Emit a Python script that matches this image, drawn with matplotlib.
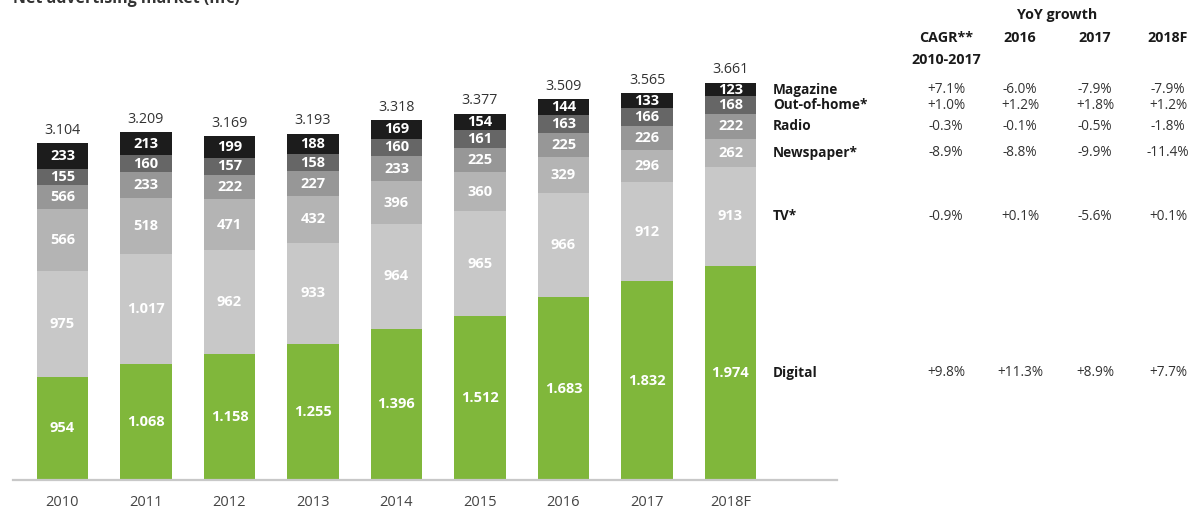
import matplotlib.pyplot as plt
import numpy as np
from matplotlib.transforms import blended_transform_factory

plt.rcParams['font.family'] = ['Open Sans', 'DejaVu Sans']

years = ['2010', '2011', '2012', '2013', '2014', '2015', '2016', '2017', '2018F']

# segments, bottom to top
digital = [954, 1068, 1158, 1255, 1396, 1512, 1683, 1832, 1974]
tv = [975, 1017, 962, 933, 964, 965, 966, 912, 913]
newspaper = [566, 518, 471, 432, 396, 360, 329, 296, 262]
radio = [221, 233, 222, 227, 233, 225, 225, 226, 222]
out_of_home = [155, 160, 157, 158, 160, 161, 163, 166, 168]
magazine = [233, 213, 199, 188, 169, 154, 144, 133, 123]
totals = ['3.104', '3.209', '3.169', '3.193', '3.318', '3.377', '3.509', '3.565', '3.661']

# the source prints 566 on the 2010 radio segment
radio_labels = ['566', '233', '222', '227', '233', '225', '225', '226', '222']

names = ['Digital', 'TV*', 'Newspaper*', 'Radio', 'Out-of-home*', 'Magazine']
cagr = ['+9.8%', '-0.9%', '-8.9%', '-0.3%', '+1.0%', '+7.1%']
yoy_2016 = ['+11.3%', '+0.1%', '-8.8%', '-0.1%', '+1.2%', '-6.0%']
yoy_2017 = ['+8.9%', '-5.6%', '-9.9%', '-0.5%', '+1.8%', '-7.9%']
yoy_2018 = ['+7.7%', '+0.1%', '-11.4%', '-1.8%', '+1.2%', '-7.9%']

colors = ['#80b73b', '#c8c8c8', '#b4b4b4', '#979797', '#666666', '#1c1c1c']


def fmt(v):
    return f'{v:,}'.replace(',', '.')


series = [digital, tv, newspaper, radio, out_of_home, magazine]
labels = [[fmt(v) for v in digital], [fmt(v) for v in tv], [fmt(v) for v in newspaper],
          radio_labels, [fmt(v) for v in out_of_home], [fmt(v) for v in magazine]]

W, H = 1191, 509
fig = plt.figure(figsize=(W / 100, H / 100), dpi=100)

# axes in pixel coords
ax_left, ax_right = 13, 837
ax_bottom, ax_top = 480, 47
ax = fig.add_axes([ax_left / W, 1 - ax_bottom / H, (ax_right - ax_left) / W, (ax_bottom - ax_top) / H])

step = 83.5
x0 = 62.5
ax.set_xlim((ax_left - x0) / step, (ax_right - x0) / step)
px_per_unit = 397 / 3661
ax.set_ylim(0, (ax_bottom - ax_top) / px_per_unit)

x = np.arange(len(years))
bottom = np.zeros(len(years))
for vals, lab, col in zip(series, labels, colors):
    vals = np.array(vals)
    ax.bar(x, vals, 0.62, bottom=bottom, color=col, linewidth=0)
    for i in range(len(years)):
        ax.text(x[i], bottom[i] + vals[i] / 2, lab[i], ha='center', va='center',
                color='white', fontsize=10.5, fontweight='bold')
    bottom += vals

for i in range(len(years)):
    ax.text(x[i], bottom[i] + 50, totals[i], ha='center', va='bottom',
            color='#333333', fontsize=10.3)

for s in ['top', 'right', 'left']:
    ax.spines[s].set_visible(False)
ax.spines['bottom'].set_color('#c8c8c8')
ax.spines['bottom'].set_linewidth(1.6)
ax.set_yticks([])
ax.set_xticks(x)
ax.set_xticklabels(years, fontsize=10.5, color='#444444')
ax.tick_params(axis='x', length=0, pad=11)

# right-hand table aligned to 2018F segments
tr = blended_transform_factory(fig.transFigure, ax.transData)
last = [s[-1] for s in series]
centers = np.cumsum(last) - np.array(last) / 2
col_x = [946, 1020, 1095, 1168]
for k, name in enumerate(names):
    yc = centers[k]
    ax.text(773 / W, yc, name, transform=tr, ha='left', va='center',
            fontsize=9.8, fontweight='bold', color='#1a1a1a', clip_on=False)
    for cx, col in zip(col_x, [cagr, yoy_2016, yoy_2017, yoy_2018]):
        ax.text(cx / W, yc, col[k], transform=tr, ha='center', va='center',
                fontsize=9.8, color='#333333', clip_on=False)

fig.text(1057 / W, 1 - 15 / H, 'YoY growth', ha='center', va='center',
         fontsize=10.3, fontweight='bold', color='#1a1a1a')
for cx, h in zip(col_x, ['CAGR**', '2016', '2017', '2018F']):
    fig.text(cx / W, 1 - 38 / H, h, ha='center', va='center',
             fontsize=10.3, fontweight='bold', color='#1a1a1a')
fig.text(col_x[0] / W, 1 - 60 / H, '2010-2017', ha='center', va='center',
         fontsize=10.3, fontweight='bold', color='#1a1a1a')

# title, cut off at the top edge as in the source
fig.text(13 / W, 1 - 3 / H, 'Net advertising market (m€)', ha='left', va='baseline',
         fontsize=11.5, fontweight='bold', color='#333333')

fig.savefig('out.png', dpi=100)
